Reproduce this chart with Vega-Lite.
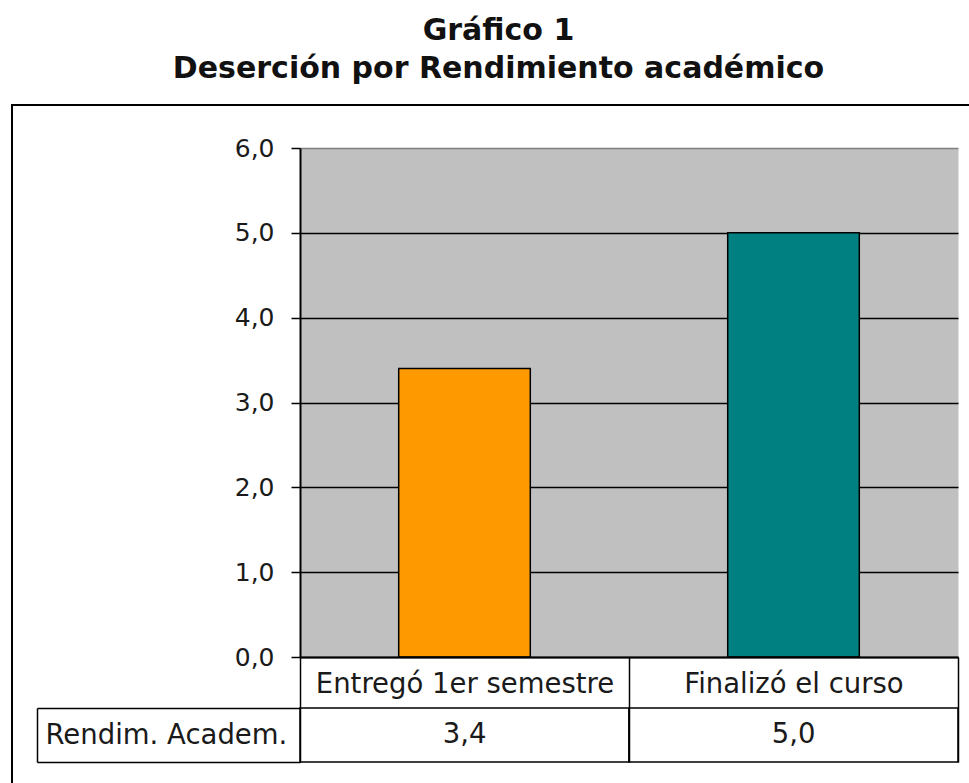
{
  "$schema": "https://vega.github.io/schema/vega-lite/v6.json",
  "width": 965,
  "height": 686,
  "autosize": {"type": "none"},
  "padding": {"left": 12, "top": 105, "right": -8, "bottom": -8},
  "background": "white",
  "title": {
    "text": ["Gráfico 1", "Deserción por Rendimiento académico"],
    "font": "DejaVu Sans",
    "fontSize": 30,
    "fontWeight": "bold",
    "color": "#111111",
    "anchor": "middle",
    "frame": "group",
    "lineHeight": 38,
    "offset": 7,
    "dx": 4
  },
  "config": {
    "locale": {"number": {"decimal": ",", "thousands": ".", "grouping": [3], "currency": ["", " €"]}},
    "view": {"stroke": "#000000", "strokeWidth": 2, "fill": "white"},
    "font": "DejaVu Sans"
  },
  "data": {
    "values": [
      {"cat": "Entregó 1er semestre", "valor": 3.4, "serie": "Rendim. Academ."},
      {"cat": "Finalizó el curso", "valor": 5.0, "serie": "Rendim. Academ."}
    ]
  },
  "encoding": {
    "x": {
      "field": "cat",
      "type": "nominal",
      "sort": null,
      "scale": {"type": "band", "range": [288, 946], "paddingInner": 0, "paddingOuter": 0},
      "axis": {
        "orient": "bottom",
        "offset": -134,
        "zindex": 1,
        "title": null,
        "domainColor": "#000000",
        "domainWidth": 2,
        "tickBand": "extent",
        "tickSize": 105,
        "tickColor": "#000000",
        "tickWidth": 1.5,
        "labelAngle": 0,
        "labelFont": "DejaVu Sans",
        "labelFontSize": 27.5,
        "labelColor": "#1a1a1a",
        "labelPadding": -78,
        "labelBaseline": "middle",
        "labelLimit": 0,
        "grid": false
      }
    }
  },
  "layer": [
    {
      "layer": [
        {
          "mark": {"type": "bar", "width": {"band": 0.4}, "strokeWidth": 0},
          "encoding": {
            "y": {
              "field": "valor",
              "type": "quantitative",
              "scale": {"domain": [0, 6], "range": [552, 43], "nice": false},
              "axis": {
                "orient": "left",
                "offset": -288,
                "values": [3],
                "grid": true,
                "gridColor": "#C0C0C0",
                "gridWidth": 509,
                "gridOpacity": 1,
                "domain": false,
                "ticks": false,
                "labels": false,
                "title": null
              }
            },
            "color": {
              "field": "cat",
              "type": "nominal",
              "sort": null,
              "scale": {"range": ["#FF9900", "#008080"]},
              "legend": null
            }
          }
        },
        {
          "mark": {"type": "bar", "width": {"band": 0.4}, "fillOpacity": 0, "stroke": "#000000", "strokeWidth": 1.5},
          "encoding": {
            "y": {
              "field": "valor",
              "type": "quantitative",
              "axis": {
                "orient": "left",
                "offset": -288,
                "values": [0, 1, 2, 3, 4, 5, 6],
                "format": ".1f",
                "title": null,
                "domainColor": "#000000",
                "domainWidth": 2,
                "tickColor": "#000000",
                "tickWidth": 1.5,
                "tickSize": 9,
                "labelFont": "DejaVu Sans",
                "labelFontSize": 25,
                "labelColor": "#1a1a1a",
                "labelPadding": 17,
                "grid": true,
                "gridColor": {"condition": {"test": "datum.value === 6", "value": "#7f7f7f"}, "value": "#000000"},
                "gridWidth": 1.5,
                "gridOpacity": 1
              }
            }
          }
        }
      ],
      "resolve": {"axis": {"y": "independent"}}
    },
    {
      "encoding": {
        "y": {
          "field": "serie",
          "type": "nominal",
          "scale": {"type": "band", "range": [603, 657], "paddingInner": 0, "paddingOuter": 0},
          "axis": {
            "orient": "left",
            "offset": -25,
            "zindex": 1,
            "title": null,
            "domain": true,
            "domainColor": "#000000",
            "domainWidth": 1.5,
            "ticks": true,
            "tickBand": "extent",
            "tickSize": -263,
            "tickColor": "#000000",
            "tickWidth": 1.5,
            "labelAlign": "left",
            "labelBaseline": "middle",
            "labelPadding": 255,
            "labelFont": "DejaVu Sans",
            "labelFontSize": 27.5,
            "labelColor": "#1a1a1a",
            "labelLimit": 0,
            "grid": false
          }
        }
      },
      "layer": [
        {
          "mark": {"type": "rect", "fill": "white", "stroke": "#000000", "strokeWidth": 1.5}
        },
        {
          "mark": {"type": "text", "font": "DejaVu Sans", "fontSize": 27.5, "color": "#1a1a1a"},
          "encoding": {
            "text": {"field": "valor", "type": "quantitative", "format": ".1f"}
          }
        }
      ]
    }
  ],
  "resolve": {"scale": {"y": "independent"}, "axis": {"y": "independent"}}
}
